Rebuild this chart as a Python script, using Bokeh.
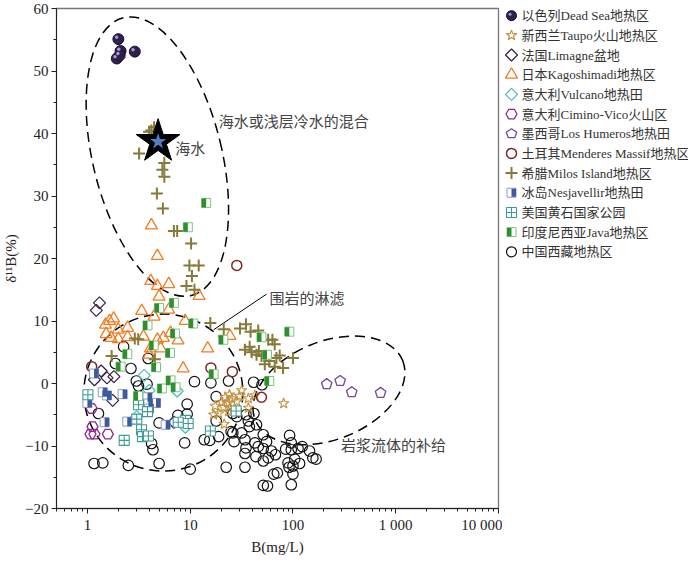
import math
from bokeh.plotting import figure
from bokeh.layouts import row
from bokeh.models import Range1d, FixedTicker
from bokeh.core.properties import value
from bokeh.embed import file_html
from bokeh.resources import INLINE

# ---------------- data (B mg/L, delta11B permil) ----------------
deadsea_B = [2.0, 2.1, 2.89, 1.93, 2.06]
deadsea_d = [55.1, 53.2, 53.1, 52.0, 52.5]

taupo_B = [24.1, 21.9, 25.4, 20.3, 23.6, 28.4, 17.5, 21.1, 24.4, 30.1, 36.8, 42.6, 18.9, 23.6, 27.3, 16.9, 21.4, 36.8, 81.2, 31.7]
taupo_d = [-1.8, -2.2, -2.4, -3.0, -3.1, -2.9, -3.6, -3.8, -3.9, -2.0, -2.4, -1.9, -4.8, -4.5, -4.3, -5.0, -6.5, -3.9, -3.2, -1.1]

limagne_B = [1.31, 1.22, 1.36, 1.17, 1.55, 1.81, 1.76, 6.94]
limagne_d = [12.9, 11.7, 2.0, 0.6, 0.9, 1.1, -2.7, -6.2]

kago_B = [4.19, 4.79, 4.13, 4.79, 6.19, 4.98, 12.2, 3.37, 4.45, 6.19, 1.80, 1.64, 8.93, 1.50, 1.99, 2.46, 1.52, 1.70, 2.00, 2.46,
          3.51, 4.79, 5.48, 6.44, 7.61, 4.10, 5.16, 3.98, 14.8, 8.54, 24.4]
kago_d = [25.3, 20.4, 16.4, 15.6, 15.9, 13.9, 14.0, 11.6, 10.7, 11.8, 10.4, 10.0, 10.0, 9.4, 8.6, 8.9, 7.9, 7.3, 7.1, 7.4,
          7.5, 7.0, 7.3, 8.1, 6.9, 5.6, 5.6, 4.6, 5.6, 2.4, 7.6]

vulcano_B = [3.57, 3.98, 7.47, 3.02, 8.99]
vulcano_d = [1.3, -1.1, -1.2, -5.3, -7.0]

cimino_B = [1.10, 1.12, 1.07, 1.17, 1.58]
cimino_d = [-4.0, -6.9, -8.1, -8.1, -8.1]

humeros_B = [213, 288, 373, 712]
humeros_d = [-0.1, 0.4, -1.4, -1.5]

menderes_B = [1.10, 15.9, 25.7, 49.4, 28.4]
menderes_d = [2.7, 2.5, 1.9, -2.2, 18.9]

milos_B = [4.45, 3.98, 4.19, 3.18, 5.60, 5.36, 5.60, 4.74, 5.42, 6.94, 7.47, 10.2, 9.82, 12.1, 10.4, 9.19, 11.0, 15.7, 21.2, 2.89,
           3.12, 1.72, 4.53, 30.5, 34.9, 38.7, 45.9, 34.1, 39.6, 44.2, 46.6, 57.4, 63.1, 66.4, 53.2, 58.7, 69.0, 74.3, 66.4, 80.1,
           100, 37.9, 49.4]
milos_d = [41.0, 40.3, 40.5, 36.8, 35.3, 34.2, 33.1, 30.4, 28.0, 24.4, 24.4, 22.4, 18.9, 18.9, 17.2, 15.6, 15.0, 9.7, 8.7, 7.2,
           7.1, 4.4, 3.9, 8.8, 9.5, 8.3, 8.5, 5.4, 5.0, 4.6, 5.2, 7.0, 7.0, 6.3, 3.1, 3.6, 4.1, 4.5, 2.7, 2.5,
           4.1, 5.9, 4.4]

nesj_B = [1.16, 1.41, 1.55, 2.20, 1.00, 1.47, 2.44, 3.84, 3.92, 4.65, 5.77, 3.97]
nesj_d = [1.6, -1.4, -1.9, -1.7, -3.1, -6.2, -6.1, -2.2, -3.2, -3.1, -6.6, -4.0]

yellow_B = [1.01, 3.14, 3.84, 3.02, 3.36, 3.43, 3.92, 2.28, 15.7, 8.99, 9.55, 28.0, 7.64]
yellow_d = [-1.8, -3.4, -4.5, -5.7, -7.4, -8.5, -8.4, -9.1, -7.6, -5.9, -6.4, -4.4, -6.2]

java_B = [14.3, 9.48, 6.94, 4.98, 3.84, 10.7, 7.10, 4.41, 6.36, 2.44, 2.10, 4.65, 21.0, 16.9, 6.44, 5.30, 7.20, 3.11, 92.1, 49.4, 55.9, 58.7]
java_d = [28.9, 25.0, 12.9, 12.1, 9.3, 9.6, 8.0, 6.1, 4.9, 4.7, 2.7, 2.6, 7.0, 1.5, 0.5, -0.8, -0.6, -2.0, 8.3, 7.4, 4.6, 0.4]

tibet_B = [2.25, 3.90, 1.87, 2.65, 2.99, 3.14, 3.80, 11.0, 15.9, 23.6, 41.4, 50.0, 1.28, 4.98, 7.59, 9.34, 9.34, 17.9, 17.9, 4.21,
           4.34, 8.83, 13.7, 15.5, 1.16, 1.41, 2.50, 4.98, 10.0, 22.4, 34.1, 25.0, 26.0, 28.4, 34.9, 41.7, 36.8, 44.2, 26.0, 31.7,
           37.6, 51.4, 26.7, 34.1, 42.6, 45.9, 51.4, 55.3, 61.7, 92.7, 96.3, 84.9, 96.3, 112, 123, 145, 156, 168, 34.9, 34.1,
           43.6, 51.4, 57.4, 67.5, 89.5, 100, 104, 116, 91.5, 100, 65.0, 70.5, 51.4, 56.5, 96.3, 18.9]
tibet_d = [5.9, 4.0, 3.2, 2.4, 0.4, -0.4, -0.1, 0.3, 0.1, 0.4, 0.2, -0.2, -4.8, -6.3, -5.1, -3.3, -4.9, -2.1, -6.0, -9.6,
           -10.6, -9.5, -9.0, -9.1, -12.8, -12.7, -13.1, -12.8, -13.7, -13.4, -13.4, -7.7, -4.8, -5.3, -5.0, -4.8, -6.0, -6.6, -7.9, -7.9,
           -6.9, -8.2, -9.3, -9.0, -9.5, -10.1, -10.4, -9.3, -10.8, -8.3, -9.5, -10.5, -10.6, -10.4, -10.1, -10.8, -11.9, -12.1, -10.3, -11.2,
           -11.7, -12.4, -11.9, -11.4, -12.7, -13.2, -12.1, -12.8, -13.4, -14.5, -14.5, -14.3, -16.3, -16.4, -16.2, -8.5]

seawater_B = [4.87]
seawater_d = [38.7]

legend_labels = ["以色列Dead Sea地热区", "新西兰Taupo火山地热区", "法国Limagne盆地", "日本Kagoshimadi地热区",
                 "意大利Vulcano地热田", "意大利Cimino-Vico火山区", "墨西哥Los Humeros地热田", "土耳其Menderes Massif地热区",
                 "希腊Milos Island地热区", "冰岛Nesjavellir地热田", "美国黄石国家公园", "印度尼西亚Java地热区", "中国西藏地热区"]

x_major = [1, 10, 100, 1000, 10000]
x_major_labels = ["1", "10", "100", "1 000", "10 000"]
y_major = [-20, -10, 0, 10, 20, 30, 40, 50, 60]
y_major_labels = ["−20", "−10", "0", "10", "20", "30", "40", "50", "60"]

# ---------------- styles ----------------
C_DEAD = "#2E1F4F"
C_TAUPO = "#C4913E"
C_LIMAGNE = "#3B2350"
C_KAGO = "#F47B20"
C_VULC = "#4CC0B5"
C_CIMINO = "#8E2C8E"
C_HUM = "#7446A8"
C_MEND = "#7A2A24"
C_MILOS = "#857A3A"
C_NESJ_D, C_NESJ_L = "#3D5A9E", "#8A9AD0"
C_YELL = "#3E9B95"
C_JAVA_D, C_JAVA_L = "#2F8F2F", "#7CC47C"
C_TIBET = "#111111"

SERIF = "Liberation Serif"
CJK = "Noto Sans CJK SC"
MIXED = "Liberation Serif, Noto Sans CJK SC"

FRAME_W, FRAME_H = 442, 500
XMIN, XMAX, YMIN, YMAX = 0.5, 10000, -20, 60
DEC_PX = FRAME_W / (math.log10(XMAX) - math.log10(XMIN))
Y_PX = FRAME_H / (YMAX - YMIN)

p = figure(frame_width=FRAME_W, frame_height=FRAME_H, x_axis_type="log",
           x_range=Range1d(XMIN, XMAX), y_range=Range1d(YMIN, YMAX),
           toolbar_location=None, output_backend="svg",
           min_border_left=50, min_border_right=4, min_border_top=8, min_border_bottom=0)
p.grid.visible = False
p.outline_line_color = "#777777"
p.outline_line_width = 1.3
p.background_fill_color = "white"
p.border_fill_color = "white"

x_minor = [m * 10 ** e for e in range(-1, 4) for m in range(2, 10) if m * 10 ** e >= 0.5]
p.xaxis.ticker = FixedTicker(ticks=x_major, minor_ticks=x_minor)
p.xaxis.major_label_overrides = {t: s for t, s in zip(x_major, x_major_labels)}
p.yaxis.ticker = FixedTicker(ticks=y_major, minor_ticks=list(range(-20, 61, 5)))
p.yaxis.major_label_overrides = {t: s for t, s in zip(y_major, y_major_labels)}
p.xaxis.axis_label = "B(mg/L)"
p.yaxis.axis_label = "δ¹¹B(%)"
for ax in (p.xaxis[0], p.yaxis[0]):
    ax.major_tick_in = 0
    ax.major_tick_out = 5
    ax.minor_tick_in = 0
    ax.minor_tick_out = 3
    ax.axis_line_color = "#222222"
    ax.major_tick_line_color = "#222222"
    ax.minor_tick_line_color = "#222222"
    ax.major_label_text_font = SERIF
    ax.major_label_text_font_size = "15px"
    ax.major_label_text_color = "#222222"
    ax.axis_label_text_font = SERIF
    ax.axis_label_text_font_size = "15px"
    ax.axis_label_text_font_style = "normal"
    ax.axis_label_text_color = "#222222"
    ax.major_label_standoff = 3
    ax.axis_label_standoff = 3

# ---------------- annotations ----------------
ell_kw = dict(fill_color=None, line_color="black", line_width=1.5, line_dash="10 6",
              width_units="screen", height_units="screen")
p.ellipse(x=[4.79], y=[36.3], width=[129], height=[286], angle=[0.239], **ell_kw)
p.ellipse(x=[5.48], y=[-1.45], width=[159], height=[157], angle=[0.0], **ell_kw)
p.ellipse(x=[224], y=[-1.1], width=[159], height=[98], angle=[0.384], **ell_kw)
p.segment(x0=[16.9], y0=[8.6], x1=[55.3], y1=[14.3], line_color="black", line_width=1)

txt_kw = dict(text_font=value(CJK), text_font_size="15px", text_color="#444444",
              text_baseline="middle", text_align="left")
p.text(x=[19.0], y=[42.1], text=["海水或浅层冷水的混合"], **txt_kw)
p.text(x=[7.15], y=[37.7], text=["海水"], **txt_kw)
p.text(x=[59.0], y=[13.8], text=["围岩的淋滤"], **txt_kw)
p.text(x=[293], y=[-9.8], text=["岩浆流体的补给"], **txt_kw)


def half_square(fig, xs, ys, dark, light, side, size=9):
    fig.scatter(xs, ys, marker="square", size=size, fill_color="white", line_color=light, line_width=1)
    h = size / 2.0
    if side == "left":
        left = [x * 10 ** (-h / DEC_PX) for x in xs]
        right = list(xs)
    else:
        left = list(xs)
        right = [x * 10 ** (h / DEC_PX) for x in xs]
    fig.quad(left=left, right=right, bottom=[y - h / Y_PX for y in ys], top=[y + h / Y_PX for y in ys],
             fill_color=dark, line_color=None)


def pentagons(xs, ys, r=5.5):
    px, py = [], []
    for x, y in zip(xs, ys):
        angs = [math.radians(90 + 72 * k) for k in range(5)]
        px.append([x * 10 ** (r * math.cos(a) / DEC_PX) for a in angs])
        py.append([y + r * math.sin(a) / Y_PX for a in angs])
    return px, py


# ---------------- data marks ----------------
p.scatter(tibet_B, tibet_d, marker="circle", size=10.5, fill_color=None, line_color=C_TIBET, line_width=1.2)
p.scatter(taupo_B, taupo_d, marker="star", size=11, fill_color=None, line_color=C_TAUPO, line_width=1.1)
p.scatter(limagne_B, limagne_d, marker="square", angle=math.pi / 4, size=8.5, fill_color=None, line_color=C_LIMAGNE, line_width=1.3)
p.scatter(kago_B, kago_d, marker="triangle", size=12, fill_color=None, line_color=C_KAGO, line_width=1.3)
p.scatter(vulcano_B, vulcano_d, marker="square", angle=math.pi / 4, size=8.5, fill_color=None, line_color=C_VULC, line_width=1.3)
p.scatter(cimino_B, cimino_d, marker="hex", size=11, fill_color=None, line_color=C_CIMINO, line_width=1.3)
hx, hy = pentagons(humeros_B, humeros_d)
p.patches(hx, hy, fill_color=None, line_color=C_HUM, line_width=1.3)
p.scatter(menderes_B, menderes_d, marker="circle", size=10, fill_color=None, line_color=C_MEND, line_width=1.5)
p.scatter(milos_B, milos_d, marker="cross", size=12, line_color=C_MILOS, line_width=2)
half_square(p, nesj_B, nesj_d, C_NESJ_D, C_NESJ_L, "right")
p.scatter(yellow_B, yellow_d, marker="square_cross", size=10, fill_color="white", line_color=C_YELL, line_width=1.1)
half_square(p, java_B, java_d, C_JAVA_D, C_JAVA_L, "left")
p.scatter(deadsea_B, deadsea_d, marker="circle", size=11, fill_color=C_DEAD, line_color="#1A1030", line_width=1)
p.scatter([b * 10 ** (-1.8 / DEC_PX) for b in deadsea_B], [d + 1.8 / Y_PX for d in deadsea_d],
          marker="circle", size=3.5, fill_color="#A89CC8", line_color=None)
p.scatter(seawater_B, seawater_d, marker="star", size=46, fill_color="black", line_color="black")
p.scatter(seawater_B, seawater_d, marker="star", size=17, fill_color="#4F80C4", line_color=None)

# ---------------- legend (separate panel) ----------------
LEG_W, LEG_H = 186, 540
leg = figure(width=LEG_W, height=LEG_H, x_range=Range1d(0, LEG_W), y_range=Range1d(LEG_H, 0),
             toolbar_location=None, output_backend="svg", x_axis_location=None, y_axis_location=None,
             min_border=0, outline_line_color=None)
leg.grid.visible = False
rows = [8 + 22 * i for i in range(len(legend_labels))]
MX = 9
leg.scatter([MX], [rows[0]], marker="circle", size=10, fill_color=C_DEAD, line_color="#1A1030")
leg.scatter([MX - 1.5], [rows[0] - 1.5], marker="circle", size=3, fill_color="#A89CC8", line_color=None)
leg.scatter([MX], [rows[1]], marker="star", size=11, fill_color=None, line_color=C_TAUPO, line_width=1.1)
leg.scatter([MX], [rows[2]], marker="square", angle=math.pi / 4, size=8.5, fill_color=None, line_color=C_LIMAGNE, line_width=1.3)
leg.scatter([MX], [rows[3]], marker="triangle", size=12, fill_color=None, line_color=C_KAGO, line_width=1.3)
leg.scatter([MX], [rows[4]], marker="square", angle=math.pi / 4, size=8.5, fill_color=None, line_color=C_VULC, line_width=1.3)
leg.scatter([MX], [rows[5]], marker="hex", size=11, fill_color=None, line_color=C_CIMINO, line_width=1.3)
pa = [math.radians(90 + 72 * k) for k in range(5)]
leg.patch([MX + 5.5 * math.cos(a) for a in pa], [rows[6] - 5.5 * math.sin(a) for a in pa],
          fill_color=None, line_color=C_HUM, line_width=1.3)
leg.scatter([MX], [rows[7]], marker="circle", size=10, fill_color=None, line_color=C_MEND, line_width=1.5)
leg.scatter([MX], [rows[8]], marker="cross", size=12, line_color=C_MILOS, line_width=2)
leg.scatter([MX], [rows[9]], marker="square", size=9, fill_color="white", line_color=C_NESJ_L, line_width=1)
leg.quad(left=[MX], right=[MX + 4.5], top=[rows[9] - 4.5], bottom=[rows[9] + 4.5], fill_color=C_NESJ_D, line_color=None)
leg.scatter([MX], [rows[10]], marker="square_cross", size=10, fill_color="white", line_color=C_YELL, line_width=1.1)
leg.scatter([MX], [rows[11]], marker="square", size=9, fill_color="white", line_color=C_JAVA_L, line_width=1)
leg.quad(left=[MX - 4.5], right=[MX], top=[rows[11] - 4.5], bottom=[rows[11] + 4.5], fill_color=C_JAVA_D, line_color=None)
leg.scatter([MX], [rows[12]], marker="circle", size=10, fill_color=None, line_color=C_TIBET, line_width=1.2)
leg.text(x=[MX + 10] * len(legend_labels), y=rows, text=legend_labels, text_font=value(MIXED),
         text_font_size="13px", text_color="#333333", text_baseline="middle", text_align="left")

layout = row(p, leg)
open("out.html", "w").write(file_html(layout, INLINE))
